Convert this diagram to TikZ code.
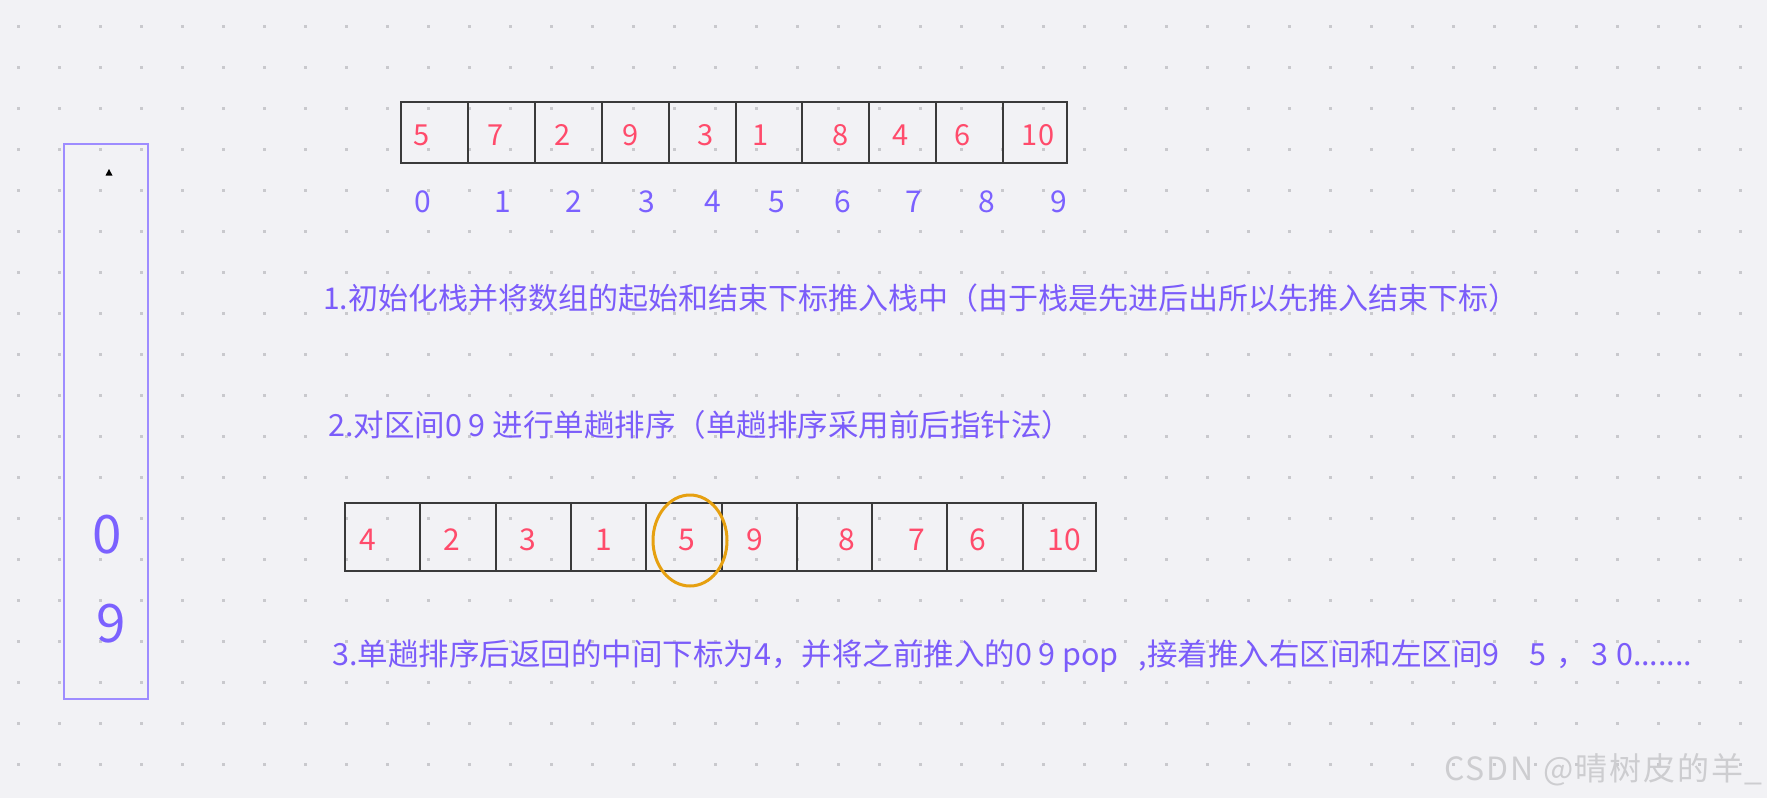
\documentclass[tikz,border=0pt]{standalone}
\usepackage{fontspec}
\setmainfont{Noto Sans CJK SC}
\newfontfamily\wmfont[LetterSpace=6]{Noto Sans CJK SC}
\usetikzlibrary{shapes.geometric}
\definecolor{bg}{HTML}{F2F2F5}
\definecolor{dotc}{HTML}{C9C9CD}
\definecolor{txt}{HTML}{7B5CFA}
\definecolor{idx}{HTML}{7B61FF}
\definecolor{num}{HTML}{FF4B6B}
\definecolor{cellline}{HTML}{3A3A3A}
\definecolor{stackc}{HTML}{9E8CFF}
\definecolor{pivc}{HTML}{E6A010}
\definecolor{wm}{HTML}{CDCDD0}
\newcommand\myfs[1]{\fontsize{#1pt}{#1pt}\selectfont}
\begin{document}
\begin{tikzpicture}[x=1pt,y=-1pt,
  cellbox/.style={draw=cellline, line width=2pt, inner sep=0pt, outer sep=0pt},
  numtxt/.style={text=num, inner sep=0pt, font=\myfs{29}},
  bignum/.style={text=num, inner sep=0pt, font=\myfs{30}},
  idxtxt/.style={text=idx, inner sep=0pt, font=\myfs{30}},
  line/.style={text=txt, inner sep=0pt, anchor=west, font=\myfs{30}},
  stackbox/.style={draw=stackc, line width=2.5pt, inner sep=0pt},
  stacknum/.style={text=idx, inner sep=0pt, font=\myfs{53}},
  pivot/.style={draw=pivc, line width=3pt, ellipse, inner sep=0pt}]
\fill[bg] (0,0) rectangle (1767,798);
\useasboundingbox (0,0) rectangle (1767,798);
% dotted grid
\foreach \i in {0,...,42}
  \foreach \j in {0,...,18}
    \fill[dotc] ({18.3+41*\i-1.5},{26.3+41*\j-1.5}) rectangle +(3,3);
% stack
\node[stackbox, minimum width=84pt, minimum height=555pt] (stack) at (106,421.5) {};
\fill[black] (105.5,175.5) -- (112.5,175.5) -- (109,169) -- cycle;
\node[stacknum] (s0) at (107,535) {0};
\node[stacknum] (s9) at (111,624) {9};
% top array
\foreach \a/\b [count=\i from 0] in {401/468,468/535,535/602,602/669,669/736,736/802,802/869,869/936,936/1003,1003/1067}
  \node[cellbox, minimum width={(\b-\a)*1pt}, minimum height=61pt] (t\i) at ({(\a+\b)/2},132.5) {};
\foreach \v/\x [count=\i from 0] in {5/422,7/496,2/563,9/631,3/706,1/761,8/841,4/901,6/963,10/1038}
  \node[numtxt] (tv\i) at (\x,135) {\v};
\foreach \x [count=\i from 0] in {423,503,574,646.5,712.6,777,843,914,987,1058.5}
  \node[idxtxt] (ti\i) at (\x,201.7) {\i};
% text lines
\node[line] (l1) at (323,298) {1.初始化栈并将数组的起始和结束下标推入栈中（由于栈是先进后出所以先推入结束下标）};
\node[line, font=\myfs{30.5}] (l2) at (328,425) {2.对区间0 9 进行单趟排序（单趟排序采用前后指针法）};
% bottom array
\foreach \a/\b [count=\i from 0] in {345/420,420/496,496/571,571/646,646/721.5,721.5/797,797/872,872/947,947/1022.5,1022.5/1096}
  \node[cellbox, minimum width={(\b-\a)*1pt}, minimum height=68pt] (b\i) at ({(\a+\b)/2},537) {};
\foreach \v/\x [count=\i from 0] in {4/368,2/452,3/528,1/604,5/687,9/755,8/847,7/917,6/978,10/1064}
  \node[bignum] (bv\i) at (\x,540) {\v};
\node[pivot, minimum width=74pt, minimum height=91pt] (piv) at (690,540.5) {};
\node[line, font=\myfs{30.5}] (l3) at (332,656) {3.单趟排序后返回的中间下标为4，并将之前推入的0 9 pop\hspace{20pt},接着推入右区间和左区间9\hspace{30pt}5\hspace{10pt}，\hspace{4pt}3\hspace{8pt}0.......};
% watermark
\node[text=wm, inner sep=0pt, anchor=east, font=\wmfont\myfs{32}] (wmk) at (1763,770) {CSDN @晴树皮的羊\_};
\end{tikzpicture}
\end{document}
